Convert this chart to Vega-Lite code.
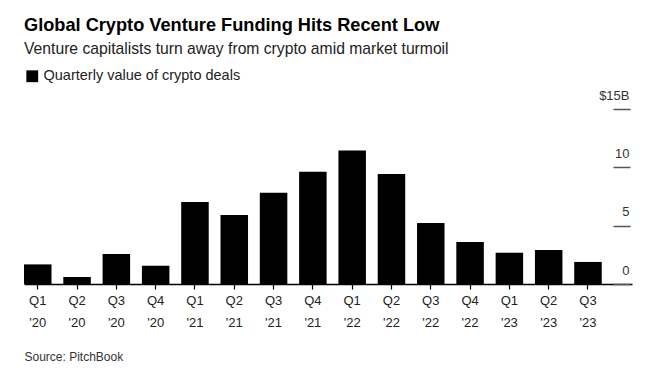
{
  "$schema": "https://vega.github.io/schema/vega-lite/v6.json",
  "width": 608,
  "height": 175,
  "autosize": {"type": "none"},
  "padding": {"left": 24, "top": 109, "right": 26, "bottom": 94},
  "background": "white",
  "config": {"view": {"stroke": null}, "font": "Liberation Sans"},
  "title": {
    "text": "Global Crypto Venture Funding Hits Recent Low",
    "subtitle": "Venture capitalists turn away from crypto amid market turmoil",
    "anchor": "start",
    "frame": "group",
    "font": "Liberation Sans",
    "fontSize": 18.2,
    "fontWeight": "bold",
    "color": "#000000",
    "subtitleFont": "Liberation Sans",
    "subtitleFontSize": 15.7,
    "subtitleColor": "#222222",
    "subtitlePadding": 7,
    "offset": 11
  },
  "data": {
    "values": [
      {"quarter": "Q1 '20", "value": 1.68, "series": "Quarterly value of crypto deals"},
      {"quarter": "Q2 '20", "value": 0.6, "series": "Quarterly value of crypto deals"},
      {"quarter": "Q3 '20", "value": 2.57, "series": "Quarterly value of crypto deals"},
      {"quarter": "Q4 '20", "value": 1.57, "series": "Quarterly value of crypto deals"},
      {"quarter": "Q1 '21", "value": 7.03, "series": "Quarterly value of crypto deals"},
      {"quarter": "Q2 '21", "value": 5.91, "series": "Quarterly value of crypto deals"},
      {"quarter": "Q3 '21", "value": 7.83, "series": "Quarterly value of crypto deals"},
      {"quarter": "Q4 '21", "value": 9.63, "series": "Quarterly value of crypto deals"},
      {"quarter": "Q1 '22", "value": 11.45, "series": "Quarterly value of crypto deals"},
      {"quarter": "Q2 '22", "value": 9.43, "series": "Quarterly value of crypto deals"},
      {"quarter": "Q3 '22", "value": 5.23, "series": "Quarterly value of crypto deals"},
      {"quarter": "Q4 '22", "value": 3.6, "series": "Quarterly value of crypto deals"},
      {"quarter": "Q1 '23", "value": 2.68, "series": "Quarterly value of crypto deals"},
      {"quarter": "Q2 '23", "value": 2.91, "series": "Quarterly value of crypto deals"},
      {"quarter": "Q3 '23", "value": 1.89, "series": "Quarterly value of crypto deals"}
    ]
  },
  "mark": {"type": "bar"},
  "encoding": {
    "x": {
      "field": "quarter",
      "type": "ordinal",
      "sort": null,
      "scale": {"paddingInner": 0.3, "paddingOuter": 0.385, "align": 0},
      "axis": {
        "labelExpr": "split(datum.label, ' ')",
        "labelAngle": 0,
        "labelLineHeight": 22,
        "labelPadding": 5,
        "labelFontSize": 13,
        "labelColor": "#222222",
        "labelBaseline": "top",
        "domainColor": "#000000",
        "domainWidth": 1.5,
        "tickColor": "#000000",
        "tickSize": 5,
        "tickWidth": 1.2,
        "title": "Source: PitchBook",
        "titleAnchor": "start",
        "titleAlign": "left",
        "titleBaseline": "alphabetic",
        "titleX": 0,
        "titleY": 76,
        "titleFontSize": 12,
        "titleFontWeight": "normal",
        "titleColor": "#333333"
      }
    },
    "y": {
      "field": "value",
      "type": "quantitative",
      "scale": {"domain": [0, 15], "nice": false},
      "axis": {
        "orient": "right",
        "values": [0, 5, 10, 15],
        "domain": false,
        "grid": false,
        "offset": -2,
        "tickSize": -17,
        "tickColor": "#555555",
        "tickWidth": 1.5,
        "labelAlign": "right",
        "labelBaseline": "alphabetic",
        "labelOffset": -10,
        "labelPadding": 16,
        "labelFontSize": 13,
        "labelColor": "#333333",
        "labelExpr": "datum.value == 15 ? '$15B' : datum.label",
        "title": null
      }
    },
    "color": {
      "field": "series",
      "type": "nominal",
      "scale": {"range": ["#000000"]},
      "legend": {
        "orient": "none",
        "legendX": 1,
        "legendY": -40,
        "title": null,
        "symbolType": "square",
        "symbolSize": 140,
        "symbolStrokeWidth": 0,
        "labelFontSize": 14.5,
        "labelLimit": 0,
        "labelColor": "#222222",
        "labelOffset": 4
      }
    }
  }
}
